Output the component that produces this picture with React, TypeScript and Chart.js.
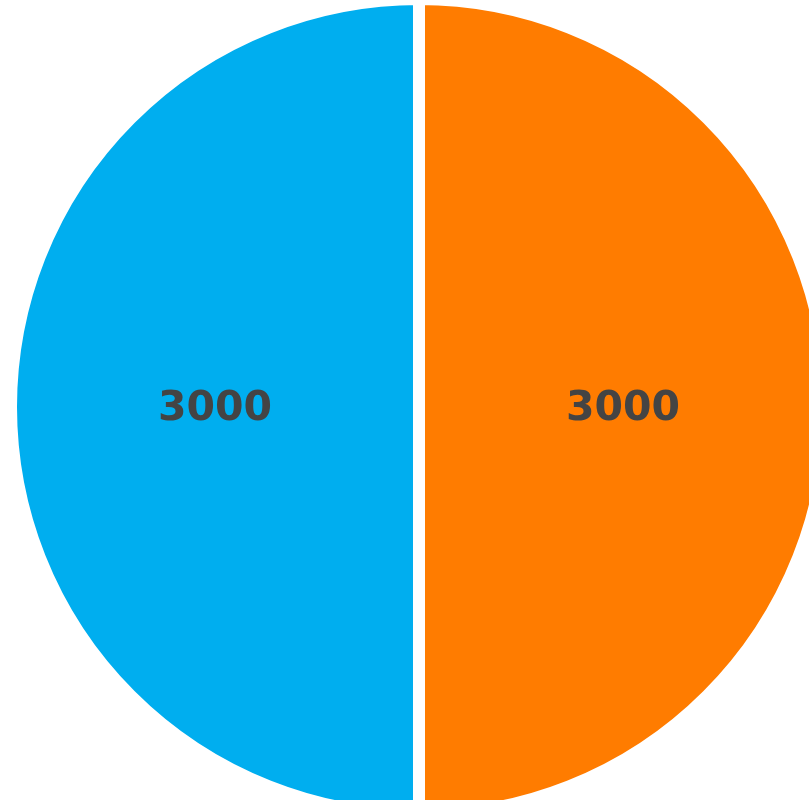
import React, { useEffect, useRef } from "react";
import { Chart, registerables } from "chart.js";

Chart.register(...registerables);

const categories = ["B", "A"];
const values = [3000, 3000];
const colors = ["#FF7C00", "#00AEEF"];

const LABEL_FONT = '700 41px "DejaVu Sans", sans-serif';

const labelPlugin = {
  id: "sliceLabels",
  afterDatasetsDraw(chart: any) {
    const ctx = chart.ctx;
    const meta = chart.getDatasetMeta(0);
    const data = chart.data.datasets[0].data;
    ctx.save();
    ctx.font = LABEL_FONT;
    ctx.fillStyle = "#444444";
    ctx.textAlign = "center";
    ctx.textBaseline = "middle";
    meta.data.forEach((arc: any, i: number) => {
      const p = arc.tooltipPosition();
      ctx.fillText(String(data[i]), p.x, p.y + 2);
    });
    ctx.restore();
  },
};

export default function App() {
  const ref = useRef<HTMLCanvasElement | null>(null);
  useEffect(() => {
    if (!ref.current) return;
    let alive = true;
    const chart = new Chart(ref.current, {
      type: "pie",
      data: {
        labels: categories,
        datasets: [
          {
            data: values,
            backgroundColor: colors,
            borderColor: "#ffffff",
            borderWidth: 12,
            hoverBorderWidth: 12,
            hoverOffset: 0,
          },
        ],
      },
      options: {
        animation: false,
        responsive: true,
        maintainAspectRatio: false,
        radius: 408,
        layout: { padding: 0 },
        plugins: {
          legend: { display: false },
          tooltip: { enabled: false },
        },
      } as any,
      plugins: [labelPlugin],
    });
    if ((document as any).fonts && (document as any).fonts.load) {
      (document as any).fonts.load(LABEL_FONT, "3000").then(() => {
        if (alive) chart.update();
      }).catch(() => {});
    }
    return () => {
      alive = false;
      chart.destroy();
    };
  }, []);
  return (
    <div style={{ position: "fixed", left: 0, top: 0, width: "100vw", height: "100vh", overflow: "hidden", background: "#fff" }}>
      <div style={{ position: "absolute", left: 0, top: 0, width: 838, height: 814 }}>
        <canvas ref={ref} />
      </div>
    </div>
  );
}
